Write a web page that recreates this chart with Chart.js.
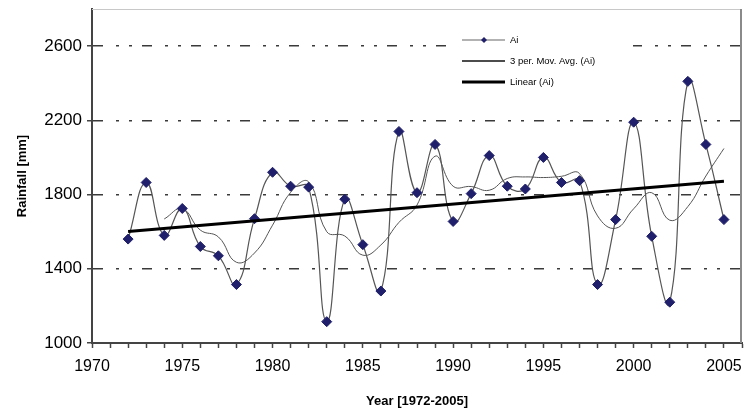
<!DOCTYPE html>
<html>
<head>
<meta charset="utf-8">
<title>Rainfall 1972-2005</title>
<script src="https://cdn.jsdelivr.net/npm/chart.js@4.4.1/dist/chart.umd.min.js"></script>
<style>
  html, body { margin: 0; padding: 0; background: #fff; }
  #wrap { width: 748px; height: 416px; }
</style>
</head>
<body>
<div id="wrap"><canvas id="rain"></canvas></div>
<script>
// annual rainfall, mm
const years = [1972, 1973, 1974, 1975, 1976, 1977, 1978, 1979, 1980, 1981, 1982,
  1983, 1984, 1985, 1986, 1987, 1988, 1989, 1990, 1991, 1992, 1993, 1994, 1995,
  1996, 1997, 1998, 1999, 2000, 2001, 2002, 2003, 2004, 2005];
const rainfall = [1560, 1865, 1580, 1725, 1520, 1470, 1315, 1670, 1920, 1845, 1840,
  1115, 1775, 1530, 1280, 2140, 1810, 2070, 1655, 1805, 2010, 1845, 1830, 2000,
  1865, 1875, 1315, 1665, 2190, 1575, 1220, 2410, 2070, 1665];
const yTicks = [1000, 1400, 1800, 2200, 2600];
const xLabelStep = 5;
const legendLabels = ['Ai', '3 per. Mov. Avg. (Ai)', 'Linear (Ai)'];

// 3 period moving average (starts at the third year)
const movAvg = [];
for (let i = 2; i < years.length; i++) {
  movAvg.push({ x: years[i], y: (rainfall[i] + rainfall[i - 1] + rainfall[i - 2]) / 3 });
}

// least squares trend
const n = years.length;
const mx = years.reduce((a, b) => a + b, 0) / n;
const my = rainfall.reduce((a, b) => a + b, 0) / n;
let sxy = 0, sxx = 0;
for (let i = 0; i < n; i++) {
  sxy += (years[i] - mx) * (rainfall[i] - my);
  sxx += (years[i] - mx) * (years[i] - mx);
}
const slope = sxy / sxx;
const trend = [years[0], years[n - 1]].map(x => ({ x: x, y: my + slope * (x - mx) }));

const points = years.map((x, i) => ({ x: x, y: rainfall[i] }));

const FONT = "'Liberation Sans', Arial, sans-serif";

// white legend box inside the plot, top middle
const boxLegend = {
  id: 'boxLegend',
  afterDraw(chart) {
    const ctx = chart.ctx;
    const area = chart.chartArea;
    const x0 = area.left + 355, y0 = area.top + 20;
    ctx.save();
    ctx.fillStyle = '#fff';
    ctx.fillRect(x0, y0, 186, 66);
    const rows = [
      { color: '#666', width: 1.2, marker: true },
      { color: '#111', width: 1.5, marker: false },
      { color: '#000', width: 3, marker: false }
    ];
    ctx.font = '9.5px ' + FONT;
    ctx.textBaseline = 'middle';
    rows.forEach((r, i) => {
      const y = y0 + 11 + i * 21;
      ctx.strokeStyle = r.color;
      ctx.lineWidth = r.width;
      ctx.beginPath();
      ctx.moveTo(x0 + 15, y);
      ctx.lineTo(x0 + 58, y);
      ctx.stroke();
      if (r.marker) {
        ctx.fillStyle = '#1f1f6b';
        ctx.beginPath();
        ctx.moveTo(x0 + 37, y - 3);
        ctx.lineTo(x0 + 40, y);
        ctx.lineTo(x0 + 37, y + 3);
        ctx.lineTo(x0 + 34, y);
        ctx.closePath();
        ctx.fill();
      }
      ctx.fillStyle = '#000';
      ctx.fillText(legendLabels[i], x0 + 63, y);
    });
    ctx.restore();
  }
};

// light frame on the top and right of the plot
const plotFrame = {
  id: 'plotFrame',
  beforeDatasetsDraw(chart) {
    const ctx = chart.ctx;
    const a = chart.chartArea;
    ctx.save();
    ctx.strokeStyle = '#c8c8c8';
    ctx.lineWidth = 1;
    ctx.beginPath();
    ctx.moveTo(a.left, a.top + 0.5);
    ctx.lineTo(a.right, a.top + 0.5);
    ctx.stroke();
    ctx.strokeStyle = '#8a8a8a';
    ctx.lineWidth = 2;
    ctx.beginPath();
    ctx.moveTo(a.right - 1, a.top);
    ctx.lineTo(a.right - 1, a.bottom);
    ctx.stroke();
    ctx.restore();
  }
};

new Chart(document.getElementById('rain'), {
  type: 'line',
  data: {
    datasets: [{
      label: legendLabels[0],
      data: points,
      borderColor: '#555',
      borderWidth: 1.2,
      tension: 0.45,
      pointStyle: 'rectRot',
      pointRadius: 5,
      pointBackgroundColor: '#1f1f6b',
      pointBorderColor: '#1f1f6b',
      pointBorderWidth: 1,
      order: 1
    }, {
      label: legendLabels[1],
      data: movAvg,
      borderColor: '#555',
      borderWidth: 1,
      tension: 0.45,
      pointRadius: 0,
      order: 2
    }, {
      label: legendLabels[2],
      data: trend,
      borderColor: '#000',
      borderWidth: 3,
      pointRadius: 0,
      order: 0
    }]
  },
  options: {
    responsive: true,
    maintainAspectRatio: false,
    animation: false,
    layout: { padding: { top: 9, right: 0, left: 0, bottom: 0 } },
    plugins: {
      legend: { display: false },
      tooltip: { enabled: false }
    },
    scales: {
      x: {
        type: 'linear',
        min: 1970,
        max: 2006,
        afterFit(scale) {
          scale.height = 73;
          scale.paddingLeft = 0;
          scale.paddingRight = 0;
        },
        ticks: {
          stepSize: 1,
          autoSkip: false,
          maxRotation: 0,
          padding: 9,
          color: '#000',
          font: { family: FONT, size: 16 },
          callback: v => (v % xLabelStep === 0 && v <= years[n - 1]) ? String(v) : ''
        },
        grid: {
          drawOnChartArea: false,
          tickLength: 5,
          tickColor: '#444',
          tickWidth: 1.5
        },
        border: { color: '#444', width: 2 },
        title: {
          display: true,
          text: 'Year [1972-2005]',
          color: '#000',
          font: { family: FONT, size: 13, weight: 'bold' },
          padding: { top: 0, bottom: 7 }
        }
      },
      y: {
        min: 1000,
        max: 2800,
        afterFit(scale) {
          scale.width = 92;
          scale.paddingTop = 0;
          scale.paddingBottom = 0;
        },
        afterBuildTicks(scale) {
          scale.ticks = yTicks.concat([2800]).map(v => ({ value: v }));
        },
        ticks: {
          padding: 5,
          color: '#000',
          font: { family: FONT, size: 17 },
          callback: v => yTicks.includes(v) ? String(v) : ''
        },
        grid: {
          color: ctx => (ctx.tick && (ctx.tick.value === 1000 || ctx.tick.value === 2800)) ? 'rgba(0,0,0,0)' : '#3a3a3a',
          lineWidth: 1.5,
          tickLength: 5,
          tickColor: ctx => (ctx.tick && ctx.tick.value === 2800) ? 'rgba(0,0,0,0)' : '#444',
          tickWidth: 1.5
        },
        border: { color: '#444', width: 2, dash: [10, 13, 3, 10, 3, 10] },
        title: {
          display: true,
          text: 'Rainfall [mm]',
          color: '#000',
          font: { family: FONT, size: 13, weight: 'bold' },
          padding: { top: 15, bottom: 0 }
        }
      }
    }
  },
  plugins: [plotFrame, boxLegend]
});
</script>
</body>
</html>
